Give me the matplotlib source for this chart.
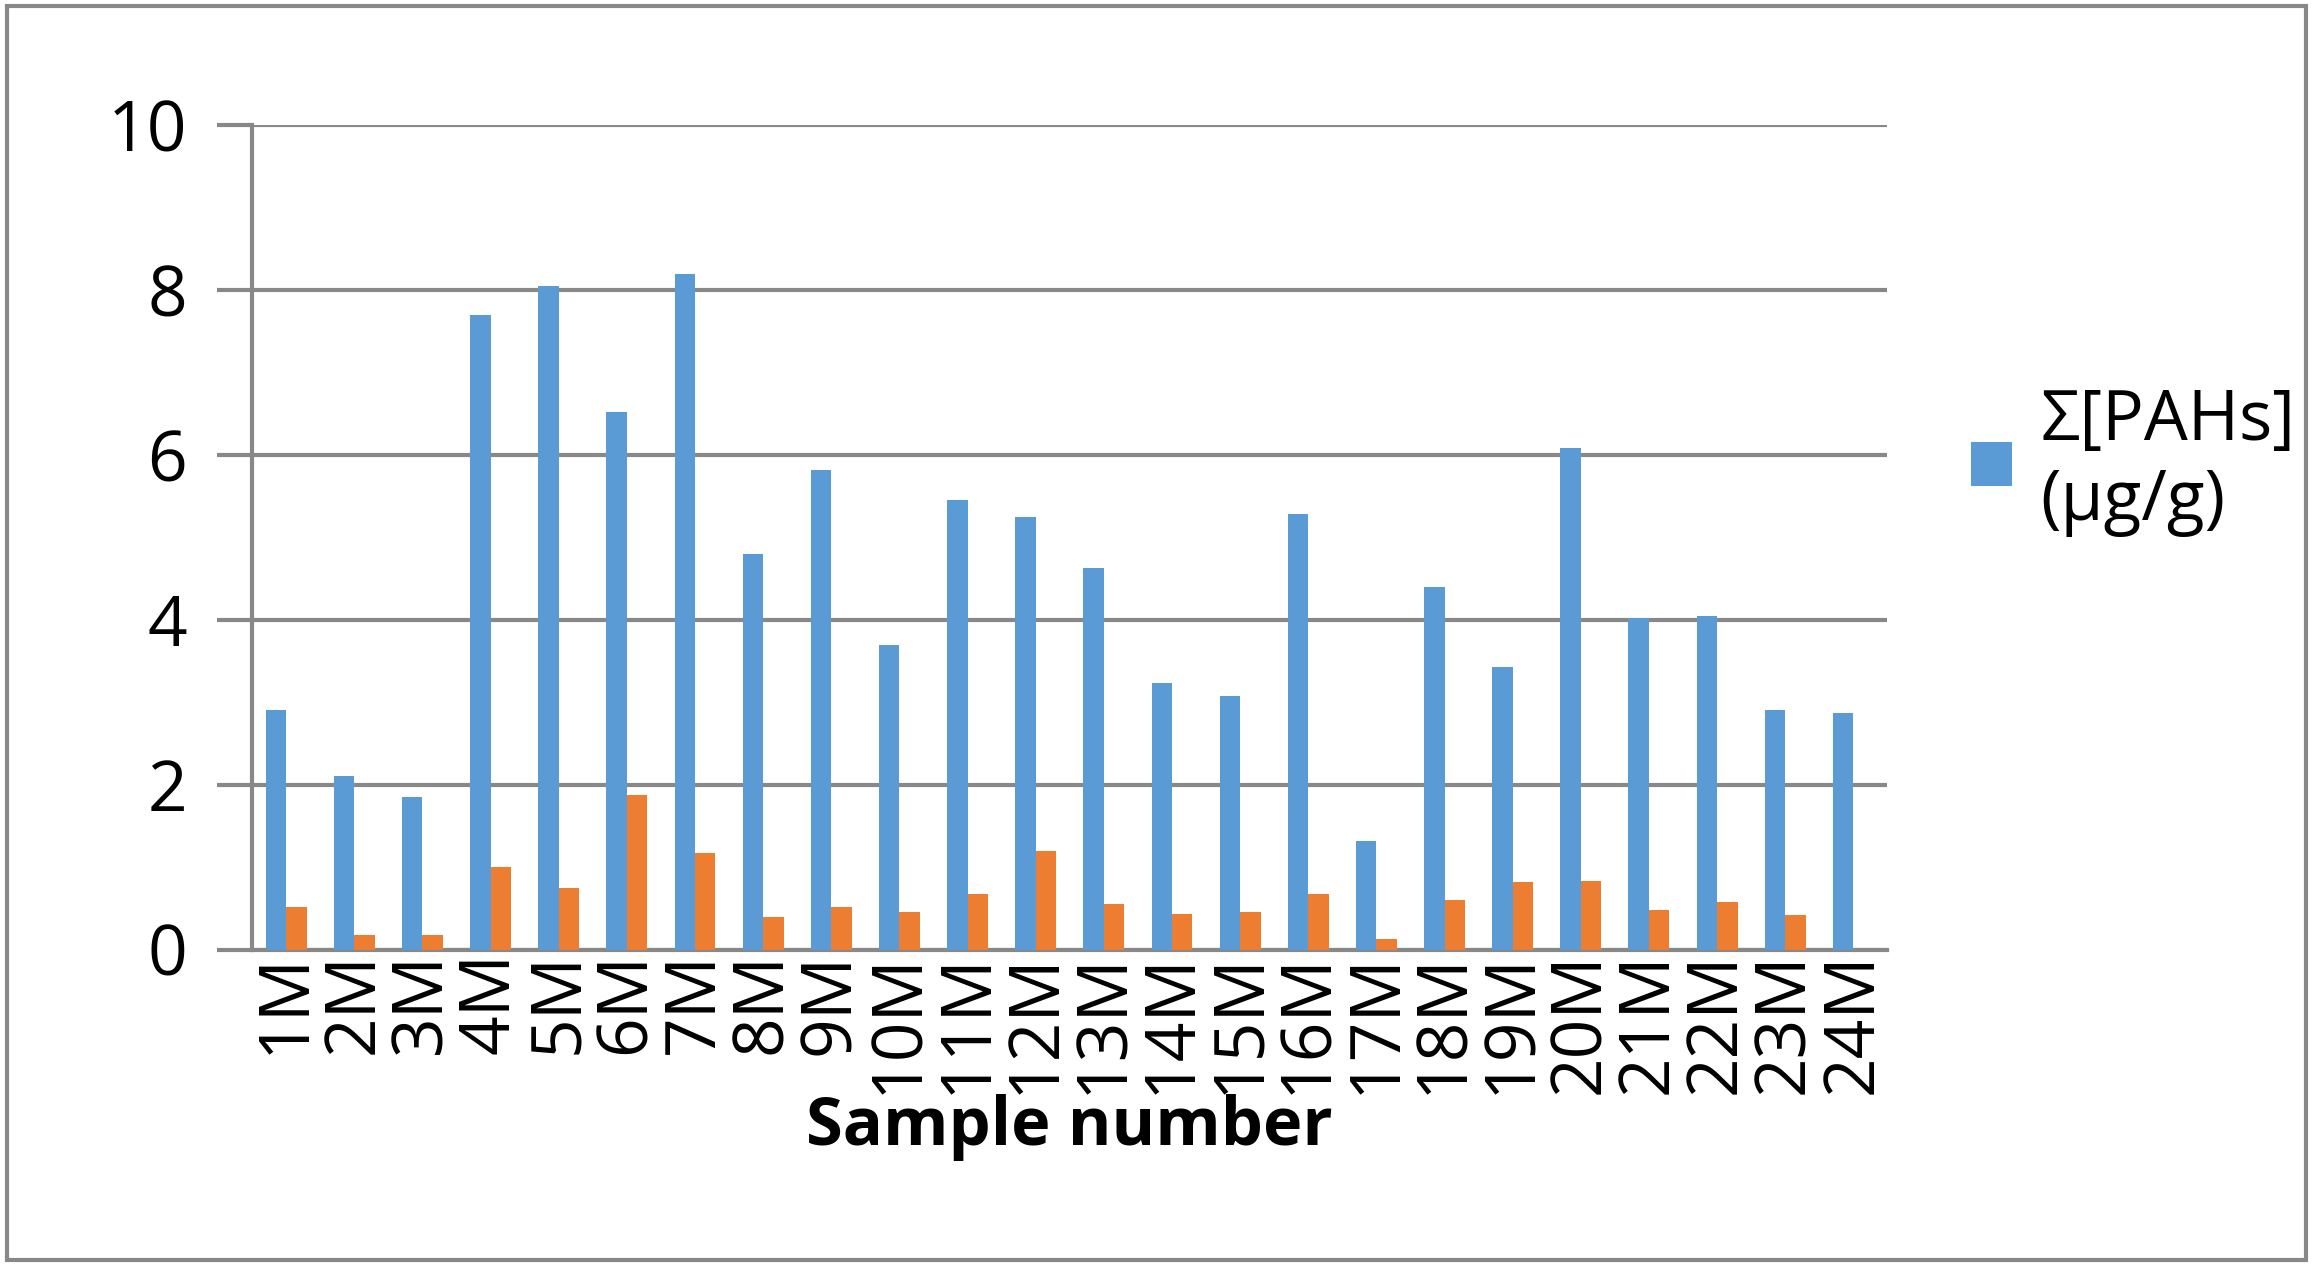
import matplotlib.pyplot as plt
import numpy as np
from matplotlib.patches import Rectangle

samples = [f"{i}M" for i in range(1, 25)]
pahs = [2.9, 2.1, 1.85, 7.7, 8.05, 6.52, 8.2, 4.8, 5.82, 3.7, 5.45, 5.25,
        4.63, 3.23, 3.07, 5.28, 1.32, 4.4, 3.43, 6.08, 4.02, 4.05, 2.9, 2.87]
second = [0.52, 0.18, 0.17, 1.0, 0.75, 1.88, 1.17, 0.4, 0.52, 0.45, 0.67, 1.2,
          0.55, 0.43, 0.45, 0.67, 0.13, 0.6, 0.82, 0.83, 0.48, 0.58, 0.42, 0.0]
y_ticks = [0, 2, 4, 6, 8, 10]

plt.rcParams["font.family"] = ["Open Sans", "DejaVu Sans"]

fig = plt.figure(figsize=(23.13, 12.66), dpi=100)
ax = fig.add_axes([0.109, 0.25, 0.707, 0.651])

x = np.arange(len(samples))
ax.bar(x - 0.15, pahs, width=0.3, color="#5B9BD5", label="Σ[PAHs]\n(µg/g)", zorder=3)
ax.bar(x + 0.15, second, width=0.3, color="#ED7D31", zorder=3)

ax.set_xlim(-0.5, len(samples) - 0.5)
ax.set_ylim(0, 10)
ax.set_yticks(y_ticks)
ax.set_yticklabels([str(v) for v in y_ticks], fontsize=50)
ax.set_xticks(x)
ax.set_xticklabels(samples, rotation=90, fontsize=50)
ax.tick_params(axis="x", length=0, pad=2)
ax.tick_params(axis="y", length=25, width=3, color="#888888", pad=22)
ax.yaxis.grid(True, color="#888888", linewidth=3, zorder=0)
for s in ["top", "right"]:
    ax.spines[s].set_visible(False)
ax.spines["left"].set_color("#888888")
ax.spines["left"].set_linewidth(3)
ax.spines["bottom"].set_color("#888888")
ax.spines["bottom"].set_linewidth(3)
ax.set_xlabel("Sample number", fontsize=48, fontweight="bold", labelpad=0)

fig.legend(loc="center left", bbox_to_anchor=(0.825, 0.635), frameon=False,
           fontsize=50, handlelength=0.6, handleheight=0.6, handletextpad=0.4)

fig.patches.append(Rectangle((0.003, 0.005), 0.994, 0.99, transform=fig.transFigure,
                             fill=False, edgecolor="#888888", linewidth=3))

fig.savefig("out.png", dpi=100)
